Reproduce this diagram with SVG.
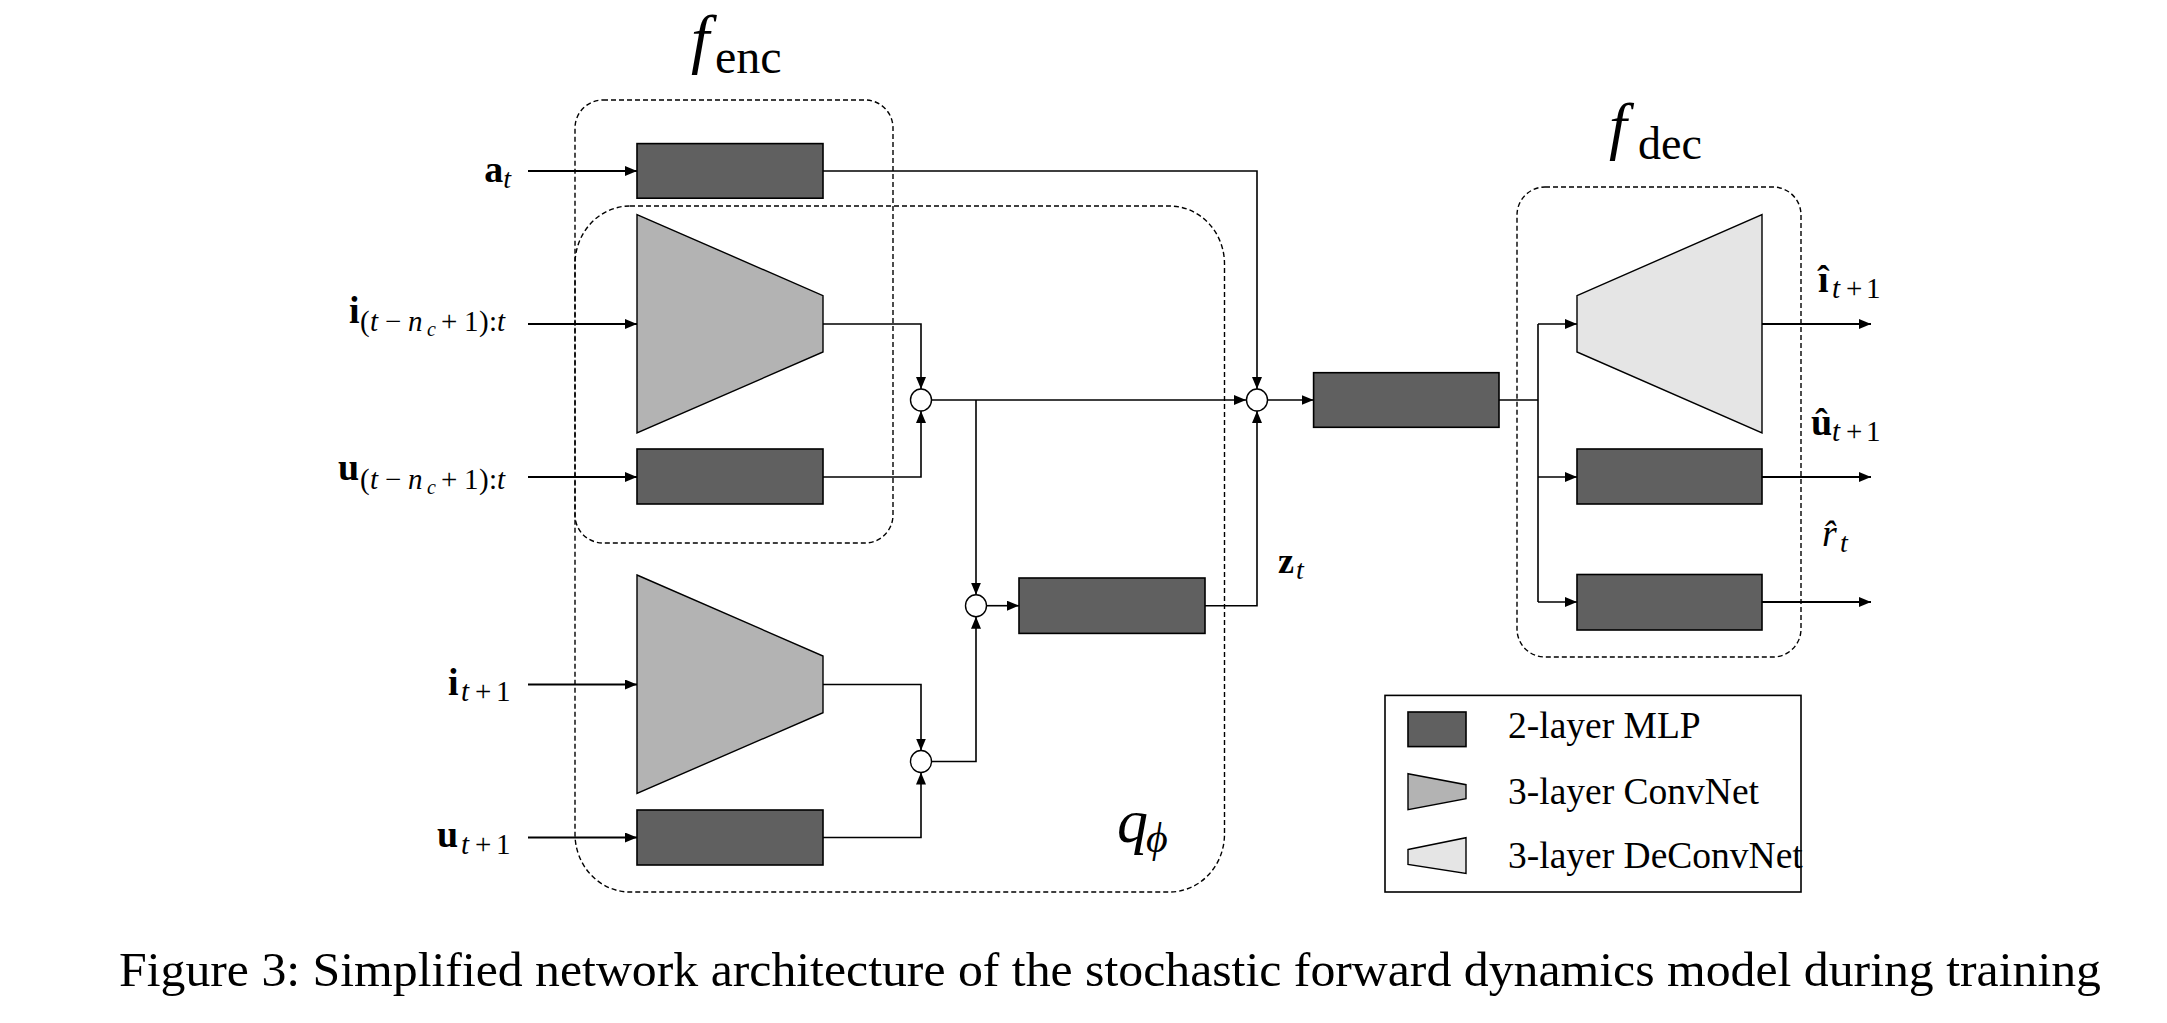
<svg xmlns="http://www.w3.org/2000/svg" width="2167" height="1023" viewBox="0 0 2167 1023">
<style>
.mlp{fill:#606060;stroke:#000;stroke-width:1.6}
.conv{fill:#b3b3b3;stroke:#000;stroke-width:1.4}
.deconv{fill:#e5e5e5;stroke:#000;stroke-width:1.4}
.dash{fill:none;stroke:#000;stroke-width:1.4;stroke-dasharray:5,3}
.sum{fill:#fff;stroke:#000;stroke-width:1.4}
.ln{fill:none;stroke:#000;stroke-width:1.6}
.in{fill:none;stroke:#000;stroke-width:2.2}
.arr{marker-end:url(#ah)}
text{font-family:"Liberation Serif","Times New Roman",serif;fill:#000}
.b{font-weight:bold}
.it{font-style:italic}
</style>
<defs>
<marker id="ah" viewBox="0 0 12 10" refX="12" refY="5" markerWidth="12" markerHeight="10" markerUnits="userSpaceOnUse" orient="auto"><path d="M0,0 L12,5 L0,10 z" fill="#000"/></marker>
</defs>

<g id="group-fenc">
<rect class="dash" x="575" y="100" width="318" height="443" rx="28" ry="28"/>
<text x="691" y="61" class="it" font-size="66">f<tspan font-style="normal" font-size="48" x="715" y="73">enc</tspan></text>
</g>
<g id="group-qphi">
<rect class="dash" x="575" y="206" width="649.5" height="686" rx="55" ry="58"/>
<text x="1117" y="842" class="it" font-size="62">q<tspan font-size="42" x="1146" y="852">ϕ</tspan></text>
</g>
<g id="group-fdec">
<rect class="dash" x="1517" y="187" width="284" height="470" rx="28" ry="28"/>
<text x="1609" y="147" class="it" font-size="64">f<tspan font-style="normal" font-size="46" x="1638" y="159">dec</tspan></text>
</g>

<g id="connectors">
<line class="in arr" x1="528" y1="171" x2="637" y2="171"/>
<line class="in arr" x1="528" y1="324" x2="637" y2="324"/>
<line class="in arr" x1="528" y1="477" x2="637" y2="477"/>
<line class="in arr" x1="528" y1="684.5" x2="637" y2="684.5"/>
<line class="in arr" x1="528" y1="837.5" x2="637" y2="837.5"/>
<polyline class="ln arr" points="823,171 1257,171 1257,389"/>
<polyline class="ln arr" points="823,324 921,324 921,389"/>
<polyline class="ln arr" points="823,477 921,477 921,411"/>
<line class="ln arr" x1="932" y1="400" x2="1246" y2="400"/>
<polyline class="ln arr" points="976,400 976,594.7"/>
<polyline class="ln arr" points="823,684.5 921,684.5 921,750.5"/>
<polyline class="ln arr" points="823,837.5 921,837.5 921,772.5"/>
<polyline class="ln arr" points="932,761.5 976,761.5 976,616.7"/>
<line class="ln arr" x1="987" y1="605.7" x2="1019" y2="605.7"/>
<polyline class="ln arr" points="1205,605.7 1257,605.7 1257,411"/>
<line class="ln arr" x1="1268" y1="400" x2="1313.6" y2="400"/>
<line class="ln" x1="1499" y1="400" x2="1538" y2="400"/>
<line class="ln" x1="1538" y1="324" x2="1538" y2="602"/>
<line class="ln arr" x1="1538" y1="324" x2="1577" y2="324"/>
<line class="ln arr" x1="1538" y1="477" x2="1577" y2="477"/>
<line class="ln arr" x1="1538" y1="602" x2="1577" y2="602"/>
<line class="in arr" x1="1762" y1="324" x2="1871" y2="324"/>
<line class="in arr" x1="1762" y1="477" x2="1871" y2="477"/>
<line class="in arr" x1="1762" y1="602" x2="1871" y2="602"/>
</g>

<g id="node-mlp-a"><rect class="mlp" x="637" y="143.6" width="186" height="54.6"/></g>
<g id="node-conv-i"><polygon class="conv" points="637,214.6 823,295.6 823,352 637,433"/></g>
<g id="node-mlp-u"><rect class="mlp" x="637" y="449" width="186" height="55"/></g>
<g id="node-conv-i1"><polygon class="conv" points="637,575 823,656 823,712.7 637,793.4"/></g>
<g id="node-mlp-u1"><rect class="mlp" x="637" y="810" width="186" height="55"/></g>
<g id="node-sum1"><ellipse class="sum" cx="921" cy="400" rx="10.5" ry="11"/></g>
<g id="node-sum2"><ellipse class="sum" cx="1257" cy="400" rx="10.5" ry="11"/></g>
<g id="node-sum3"><ellipse class="sum" cx="976" cy="605.7" rx="10.5" ry="11"/></g>
<g id="node-sum4"><ellipse class="sum" cx="921" cy="761.5" rx="10.5" ry="11"/></g>
<g id="node-mlp-z"><rect class="mlp" x="1019" y="578" width="186" height="55.4"/></g>
<g id="node-mlp-mid"><rect class="mlp" x="1313.6" y="372.7" width="185.4" height="54.6"/></g>
<g id="node-deconv"><polygon class="deconv" points="1577,295.6 1762,214.6 1762,433 1577,352"/></g>
<g id="node-mlp-du"><rect class="mlp" x="1577" y="449" width="185" height="55"/></g>
<g id="node-mlp-dr"><rect class="mlp" x="1577" y="574.5" width="185" height="55.5"/></g>

<g id="labels">
<text x="511" y="182" text-anchor="end"><tspan class="b" font-size="38">a</tspan><tspan class="it" font-size="28" dy="6">t</tspan></text>
<text y="323" font-size="29"><tspan class="b" font-size="38" x="349">i</tspan><tspan x="360" y="331">(</tspan><tspan class="it" x="370">t</tspan><tspan x="385">−</tspan><tspan class="it" x="408">n</tspan><tspan class="it" font-size="20" x="427" y="336">c</tspan><tspan x="441" y="331">+</tspan><tspan x="464">1</tspan><tspan x="479">)</tspan><tspan x="489">:</tspan><tspan class="it" x="497">t</tspan></text>
<text y="480" font-size="29"><tspan class="b" font-size="38" x="338">u</tspan><tspan x="360" y="488.5">(</tspan><tspan class="it" x="370">t</tspan><tspan x="385">−</tspan><tspan class="it" x="408">n</tspan><tspan class="it" font-size="20" x="427" y="493.5">c</tspan><tspan x="441" y="488.5">+</tspan><tspan x="464">1</tspan><tspan x="479">)</tspan><tspan x="489">:</tspan><tspan class="it" x="497">t</tspan></text>
<text y="694.5" font-size="29"><tspan class="b" font-size="38" x="448">i</tspan><tspan class="it" x="461" y="701">t</tspan><tspan x="475">+</tspan><tspan x="496">1</tspan></text>
<text y="847" font-size="29"><tspan class="b" font-size="38" x="437">u</tspan><tspan class="it" x="461" y="854">t</tspan><tspan x="475">+</tspan><tspan x="496">1</tspan></text>
<text y="573" font-size="28"><tspan class="b" font-size="36" x="1278">z</tspan><tspan class="it" x="1296" y="579">t</tspan></text>
<text font-size="29"><tspan class="b" font-size="38" x="1818" y="292">î</tspan><tspan class="it" x="1832" y="298">t</tspan><tspan x="1846">+</tspan><tspan x="1866">1</tspan></text>
<text font-size="29"><tspan class="b" font-size="38" x="1811" y="435">û</tspan><tspan class="it" x="1832" y="441">t</tspan><tspan x="1846">+</tspan><tspan x="1866">1</tspan></text>
<text font-size="28"><tspan class="it" font-size="38" x="1822" y="546">r̂</tspan><tspan class="it" x="1840" y="552">t</tspan></text>
</g>

<g id="legend">
<rect x="1385" y="695.4" width="416" height="196.6" fill="#fff" stroke="#000" stroke-width="1.6"/>
<rect class="mlp" x="1408" y="712" width="58" height="34.6"/>
<polygon class="conv" points="1408,773.7 1466,784.7 1466,798.6 1408,809.7"/>
<polygon class="deconv" points="1408,849.5 1466,837.7 1466,873.4 1408,864.5"/>
<text x="1508" y="738" font-size="37.5">2-layer MLP</text>
<text x="1508" y="804" font-size="37.5">3-layer ConvNet</text>
<text x="1508" y="868" font-size="37.5">3-layer DeConvNet</text>
</g>

<text id="caption" x="119" y="985.6" font-size="48" textLength="1982" lengthAdjust="spacingAndGlyphs">Figure 3: Simplified network architecture of the stochastic forward dynamics model during training</text>
</svg>
